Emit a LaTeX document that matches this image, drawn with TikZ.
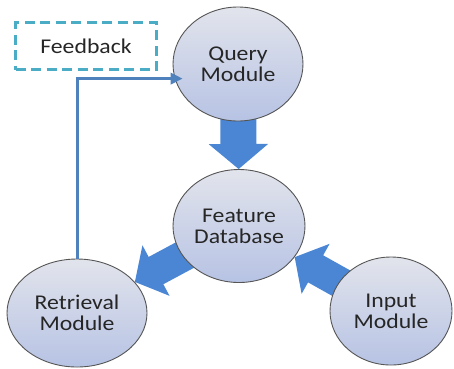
\documentclass[tikz,border=0pt]{standalone}
\usepackage{fontspec}
\setmainfont{Carlito}[FakeStretch=1.13]
\usepackage{tikz}
\usetikzlibrary{shapes, arrows.meta, backgrounds, calc}
\usepackage{xcolor}
\definecolor{fatblue}{HTML}{4A86D4}
\definecolor{linkblue}{HTML}{4F81BD}
\definecolor{dashteal}{HTML}{4BACC6}
\definecolor{ringgray}{HTML}{555555}
\definecolor{balltop}{HTML}{E2E4EC}
\definecolor{ballbottom}{HTML}{B7C3E4}

\begin{document}
\begin{tikzpicture}[x=1pt, y=-1pt,
    module/.style={ellipse, draw=ringgray, line width=0.9pt, top color=balltop, bottom color=ballbottom, inner sep=0pt, align=center, text=black!85, font=\fontsize{21}{21}\selectfont},
    fatarrow/.style={draw=fatblue, line width=31pt, -{Triangle[width=56pt,length=24pt]}},
    feedarrow/.style={draw=linkblue, line width=3pt, -{Triangle[width=11pt,length=12pt]}}]

                      \useasboundingbox (0,0) rectangle (454,368);

                      \node[module, minimum width=130pt, minimum height=114pt] (query) at (238,64) {Query\\Module};
                      \node[module, minimum width=132pt, minimum height=113pt] (feature) at (239,226) {Feature\\Database};
                      \node[module, minimum width=140pt, minimum height=108pt] (retrieval) at (77,313) {Retrieval\\Module};
                      \node[module, minimum width=122pt, minimum height=108pt] (input) at (391,311) {Input\\Module};

                      \node[draw=dashteal, line width=3.5pt, dash pattern=on 10pt off 5.5pt, minimum width=141pt, minimum height=47pt, text=black!85, font=\fontsize{21}{21}\selectfont] (feedback) at (86,46) {Feedback};

                      \begin{scope}[on background layer]
                          \draw[fatarrow, line width=36pt, -{Triangle[width=58pt,length=25pt]}] (query.center) -- (feature);
                          \draw[fatarrow] (feature.center) -- (retrieval);
                          \draw[fatarrow] (input.center) -- (feature);
                      \end{scope}

                      \draw[feedarrow] (retrieval.north) |- ([xshift=8pt]query.193);

                    \end{tikzpicture}
\end{document}
